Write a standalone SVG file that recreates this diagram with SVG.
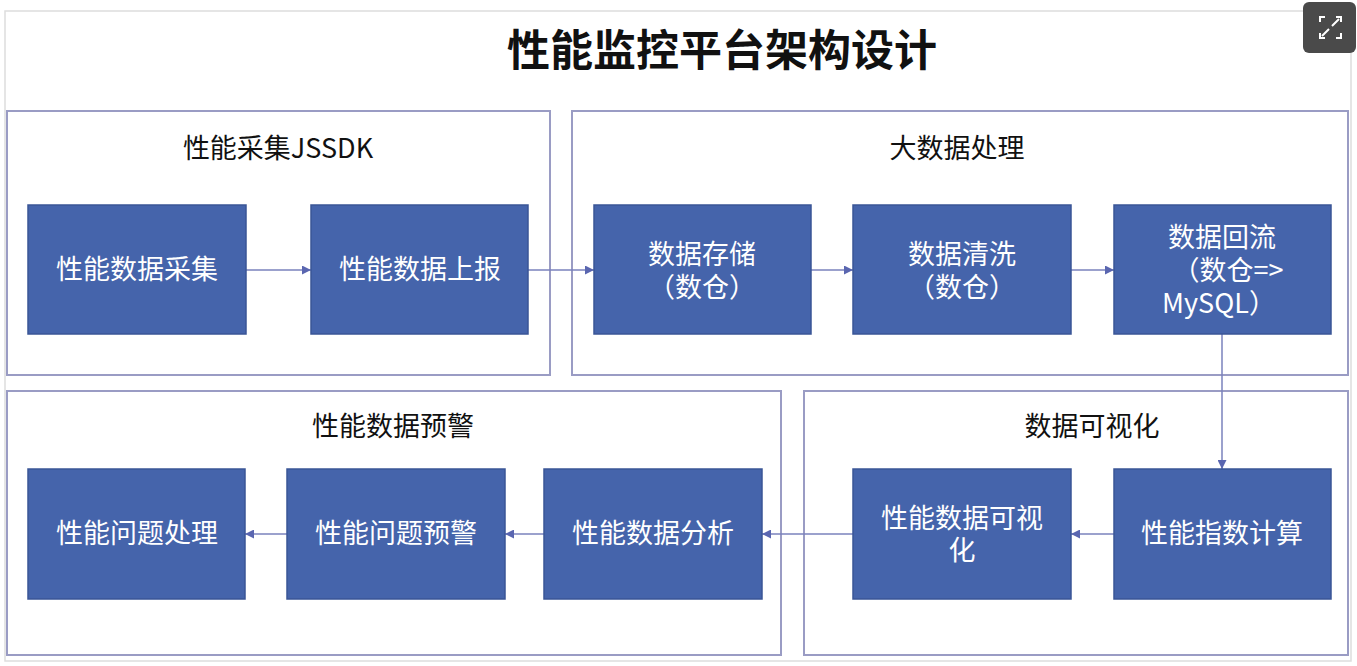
<svg xmlns="http://www.w3.org/2000/svg" width="1357" height="666" viewBox="0 0 1357 666">
<defs>
<marker id="ah" viewBox="0 0 10 10" refX="10" refY="5" markerWidth="9" markerHeight="9" markerUnits="userSpaceOnUse" orient="auto">
<path d="M0,0 L10,5 L0,10 z" fill="#5a66b0"/>
</marker>
</defs>
<style>
.panel{fill:#fff;stroke:#9a9cc4;stroke-width:2}
.box{fill:#4564ab;stroke:#3a5596;stroke-width:1.5}
.bt{font-family:"Noto Sans CJK SC","Noto Sans",sans-serif;font-size:27px;fill:#fff;text-anchor:middle}
.pt{font-family:"Noto Sans CJK SC","Noto Sans",sans-serif;font-size:27px;fill:#111;text-anchor:middle}
.title{font-family:"Noto Sans CJK SC","Noto Sans",sans-serif;font-size:43px;font-weight:bold;fill:#111;text-anchor:middle}
.conn{stroke:#7a82bd;stroke-width:1.5;fill:none;marker-end:url(#ah)}
</style>
<rect width="1357" height="666" fill="#fff"/>
<rect x="5" y="11" width="1346" height="650" fill="#fff" stroke="#ddd" stroke-width="1.5"/>
<text class="title" x="722" y="66">性能监控平台架构设计</text>

<g id="panel-jssdk">
<rect class="panel" x="7" y="111" width="543" height="264"/>
<text class="pt" x="278" y="158">性能采集JSSDK</text>
</g>
<g id="panel-bigdata">
<rect class="panel" x="572" y="111" width="776" height="264"/>
<text class="pt" x="957" y="158">大数据处理</text>
</g>
<g id="panel-alert">
<rect class="panel" x="7" y="391" width="774" height="264"/>
<text class="pt" x="393" y="436">性能数据预警</text>
</g>
<g id="panel-vis">
<rect class="panel" x="804" y="391" width="544" height="264"/>
<text class="pt" x="1092" y="436">数据可视化</text>
</g>

<g id="connectors">
<line class="conn" x1="246" y1="270" x2="311" y2="270"/>
<line class="conn" x1="528" y1="270" x2="594" y2="270"/>
<line class="conn" x1="811" y1="270" x2="853" y2="270"/>
<line class="conn" x1="1071" y1="270" x2="1114" y2="270"/>
<line class="conn" x1="1222" y1="334" x2="1222" y2="469"/>
<line class="conn" x1="1114" y1="534" x2="1071" y2="534"/>
<line class="conn" x1="853" y1="534" x2="762" y2="534"/>
<line class="conn" x1="544" y1="534" x2="505" y2="534"/>
<line class="conn" x1="287" y1="534" x2="245" y2="534"/>
</g>

<g id="n1"><rect class="box" x="28" y="205" width="218" height="129"/><text class="bt" x="137" y="279">性能数据采集</text></g>
<g id="n2"><rect class="box" x="311" y="205" width="217" height="129"/><text class="bt" x="420" y="279">性能数据上报</text></g>
<g id="n3"><rect class="box" x="594" y="205" width="217" height="129"/><text class="bt"><tspan x="702" y="264">数据存储</tspan><tspan x="702" y="297">（数仓）</tspan></text></g>
<g id="n4"><rect class="box" x="853" y="205" width="218" height="129"/><text class="bt"><tspan x="962" y="264">数据清洗</tspan><tspan x="962" y="297">（数仓）</tspan></text></g>
<g id="n5"><rect class="box" x="1114" y="205" width="217" height="129"/><text class="bt"><tspan x="1222" y="247">数据回流</tspan><tspan x="1228" y="280">（数仓=&gt;</tspan><tspan x="1219" y="313">MySQL）</tspan></text></g>

<g id="n6"><rect class="box" x="1114" y="469" width="217" height="130"/><text class="bt" x="1222" y="543">性能指数计算</text></g>
<g id="n7"><rect class="box" x="853" y="469" width="218" height="130"/><text class="bt"><tspan x="962" y="528">性能数据可视</tspan><tspan x="962" y="560">化</tspan></text></g>
<g id="n8"><rect class="box" x="544" y="469" width="218" height="130"/><text class="bt" x="653" y="543">性能数据分析</text></g>
<g id="n9"><rect class="box" x="287" y="469" width="218" height="130"/><text class="bt" x="396" y="543">性能问题预警</text></g>
<g id="n10"><rect class="box" x="28" y="469" width="217" height="130"/><text class="bt" x="137" y="543">性能问题处理</text></g>

<g id="fullscreen-btn">
<rect x="1303" y="2" width="53" height="51" rx="6" fill="#4a4a4a"/>
<path d="M1320,22 v-5 h5 M1336,17 h5 v5 M1341,33 v5 h-5 M1325,38 h-5 v-5 M1322,36 l7,-7 M1339,19 l-7,7" stroke="#fff" stroke-width="2" fill="none"/>
</g>
</svg>
